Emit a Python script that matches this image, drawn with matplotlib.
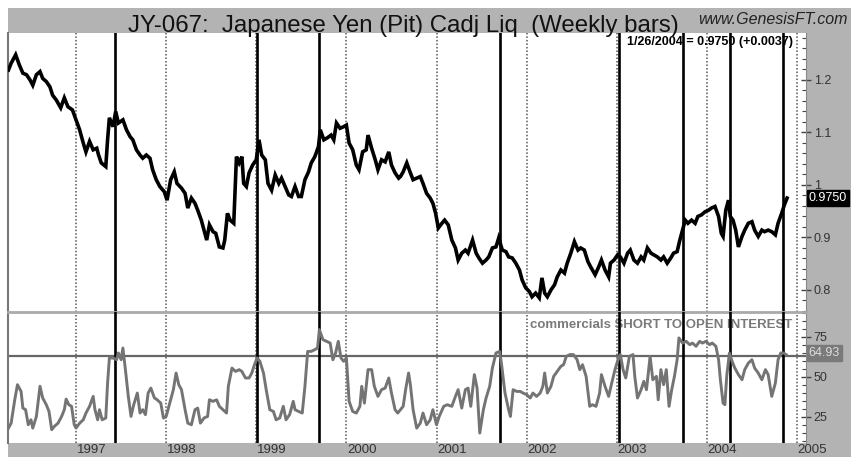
import matplotlib
matplotlib.use("Agg")
import matplotlib.pyplot as plt
import matplotlib.transforms as mtransforms
from matplotlib.patches import Rectangle
from matplotlib.ticker import FixedLocator, FixedFormatter, MultipleLocator

plt.rcParams['font.family'] = ['Liberation Sans', 'DejaVu Sans']

# weekly JY closes, x in decimal years
yen_t = [1996.25, 1996.28, 1996.33, 1996.37, 1996.41, 1996.45, 1996.49, 1996.52, 1996.56, 1996.60,
         1996.63, 1996.67, 1996.71, 1996.74, 1996.78, 1996.83, 1996.87, 1996.91, 1996.96, 1997.00,
         1997.04, 1997.08, 1997.11, 1997.15, 1997.19, 1997.23, 1997.25, 1997.28, 1997.33, 1997.35,
         1997.37, 1997.41, 1997.44, 1997.47, 1997.52, 1997.56, 1997.60, 1997.63, 1997.67, 1997.71,
         1997.74, 1997.78, 1997.82, 1997.85, 1997.89, 1997.93, 1997.98, 1998.01, 1998.05, 1998.09,
         1998.12, 1998.17, 1998.21, 1998.24, 1998.28, 1998.32, 1998.35, 1998.39, 1998.43,
         1998.45, 1998.48, 1998.52, 1998.55, 1998.59, 1998.63, 1998.65, 1998.68, 1998.71, 1998.75,
         1998.78, 1998.81, 1998.84, 1998.86, 1998.89, 1998.92, 1998.96, 1999.00, 1999.03, 1999.06,
         1999.10, 1999.13, 1999.17, 1999.21, 1999.25, 1999.28, 1999.32, 1999.36, 1999.39, 1999.43,
         1999.47, 1999.50, 1999.54, 1999.58, 1999.61, 1999.65, 1999.69, 1999.71, 1999.75, 1999.79,
         1999.83, 1999.86, 1999.89, 1999.93, 1999.97, 2000.00, 2000.03, 2000.07, 2000.11, 2000.14,
         2000.18, 2000.22, 2000.24, 2000.28, 2000.32, 2000.35, 2000.39, 2000.43, 2000.47, 2000.50,
         2000.54, 2000.58,
         2000.60, 2000.63, 2000.67, 2000.71, 2000.74, 2000.78, 2000.82, 2000.85, 2000.89, 2000.93,
         2000.96, 2000.99, 2001.02, 2001.06, 2001.09, 2001.13, 2001.17, 2001.21, 2001.24, 2001.28,
         2001.32, 2001.35, 2001.40, 2001.44, 2001.47, 2001.51, 2001.55, 2001.58, 2001.62, 2001.66,
         2001.69, 2001.73, 2001.77, 2001.80, 2001.84, 2001.88, 2001.92, 2001.95, 2001.99, 2002.03,
         2002.06, 2002.10, 2002.14, 2002.17, 2002.20, 2002.23, 2002.27, 2002.31, 2002.34, 2002.38,
         2002.42, 2002.45, 2002.49, 2002.53, 2002.57, 2002.60, 2002.64, 2002.68, 2002.71,
         2002.76, 2002.80, 2002.83, 2002.87, 2002.91, 2002.93, 2002.97, 2003.01, 2003.04, 2003.08,
         2003.12, 2003.15, 2003.19, 2003.23, 2003.27, 2003.30, 2003.34, 2003.38, 2003.41, 2003.45,
         2003.49, 2003.52, 2003.56, 2003.60, 2003.63, 2003.67, 2003.70, 2003.73, 2003.76, 2003.79,
         2003.83, 2003.87, 2003.90, 2003.94, 2003.98, 2004.02, 2004.05, 2004.09, 2004.13, 2004.16,
         2004.18, 2004.21, 2004.24, 2004.26, 2004.29, 2004.32, 2004.35, 2004.39, 2004.42, 2004.46,
         2004.50, 2004.53, 2004.57, 2004.61, 2004.64, 2004.68, 2004.72, 2004.76, 2004.79, 2004.83,
         2004.86, 2004.89]
yen = [1.219, 1.232, 1.248, 1.229, 1.213, 1.21, 1.2, 1.19, 1.21, 1.216,
       1.203, 1.197, 1.187, 1.171, 1.162, 1.147, 1.166, 1.149, 1.143, 1.124,
       1.105, 1.08, 1.063, 1.083, 1.067, 1.07, 1.057, 1.042, 1.035, 1.086,
       1.128, 1.111, 1.14, 1.118, 1.124, 1.105, 1.092, 1.086, 1.067, 1.057,
       1.051, 1.057, 1.051, 1.029, 1.01, 0.997, 0.987, 0.971, 1.01, 1.025,
       1.003, 0.994, 0.984, 0.956, 0.975, 0.965, 0.952, 0.933, 0.908,
       0.895, 0.924, 0.911, 0.908, 0.882, 0.88, 0.895, 0.946, 0.933, 0.927,
       1.054, 1.042, 1.054, 1.003, 0.997, 1.023, 1.038, 1.048, 1.086, 1.057,
       1.048, 1.003, 0.99, 1.019, 1.003, 1.013, 0.997, 0.981, 0.978, 0.997,
       0.978, 0.978, 1.01, 1.025, 1.042, 1.054, 1.073, 1.105, 1.086, 1.09,
       1.095, 1.086, 1.118, 1.108, 1.111, 1.114, 1.08, 1.067, 1.038, 1.029,
       1.063, 1.067, 1.095, 1.07, 1.048, 1.029, 1.048, 1.044, 1.063, 1.038,
       1.023, 1.013,
       1.016, 1.025, 1.042, 1.023, 1.01, 1.013, 1.016, 1.003, 0.984, 0.975,
       0.965, 0.946, 0.918, 0.927, 0.933, 0.924, 0.895, 0.88, 0.857, 0.87,
       0.876, 0.87, 0.895, 0.87, 0.861, 0.851, 0.857, 0.863, 0.88, 0.882,
       0.899, 0.876, 0.873, 0.863, 0.861, 0.851, 0.838, 0.819, 0.804, 0.797,
       0.787, 0.794, 0.785, 0.823, 0.794, 0.787, 0.8, 0.81, 0.825, 0.838,
       0.832, 0.851, 0.87, 0.892, 0.876, 0.88, 0.876, 0.854, 0.844,
       0.829, 0.844, 0.857, 0.838, 0.825, 0.851, 0.857, 0.867, 0.863, 0.851,
       0.87, 0.876, 0.857, 0.851, 0.863, 0.857, 0.88, 0.87, 0.867, 0.863,
       0.857, 0.863, 0.851, 0.861, 0.87, 0.873, 0.895, 0.914, 0.933, 0.927,
       0.933, 0.927, 0.94, 0.943, 0.949, 0.952, 0.956, 0.959, 0.94, 0.908,
       0.902, 0.952, 0.971, 0.94, 0.933, 0.914, 0.882, 0.902, 0.914, 0.927,
       0.93, 0.914, 0.902, 0.914, 0.911, 0.914, 0.911, 0.905, 0.927, 0.946,
       0.962, 0.975]

# commercials short / open interest (%)
cot_t = [1996.25, 1996.28, 1996.32, 1996.35, 1996.39, 1996.41, 1996.44, 1996.47, 1996.50, 1996.52,
         1996.56, 1996.60, 1996.63, 1996.67, 1996.70, 1996.73, 1996.76, 1996.80, 1996.84, 1996.87,
         1996.89, 1996.92, 1996.95, 1996.98, 1997.00, 1997.04, 1997.08, 1997.11, 1997.15, 1997.19,
         1997.21, 1997.24, 1997.26, 1997.29, 1997.33, 1997.35, 1997.37, 1997.41, 1997.45, 1997.47,
         1997.50, 1997.52, 1997.55, 1997.58, 1997.61, 1997.64, 1997.68, 1997.71, 1997.74, 1997.77,
         1997.80, 1997.83, 1997.87, 1997.90, 1997.94, 1997.97, 1998.00, 1998.04, 1998.08, 1998.11,
         1998.14, 1998.17, 1998.21, 1998.24, 1998.28, 1998.32, 1998.35, 1998.38, 1998.42, 1998.46,
         1998.48, 1998.52, 1998.56, 1998.59, 1998.63, 1998.67, 1998.69, 1998.73, 1998.77, 1998.81,
         1998.84, 1998.88, 1998.92, 1998.95, 1998.98, 1999.01, 1999.04, 1999.08, 1999.11, 1999.15,
         1999.19, 1999.22, 1999.26, 1999.30, 1999.33, 1999.37, 1999.41, 1999.43, 1999.47, 1999.51,
         1999.54, 1999.57, 1999.61, 1999.65, 1999.68, 1999.70, 1999.74, 1999.78, 1999.82, 1999.85,
         1999.88, 1999.91, 1999.94, 1999.97, 2000.00, 2000.03, 2000.07, 2000.11, 2000.15, 2000.17,
         2000.20, 2000.24, 2000.28, 2000.31, 2000.35, 2000.39, 2000.43, 2000.47, 2000.50, 2000.54,
         2000.57,
         2000.60, 2000.63, 2000.66, 2000.69, 2000.71, 2000.74, 2000.78, 2000.82, 2000.85, 2000.89,
         2000.93, 2000.96, 2001.00, 2001.03, 2001.08, 2001.12, 2001.17, 2001.21, 2001.24, 2001.28,
         2001.32, 2001.35, 2001.38, 2001.42, 2001.45, 2001.48, 2001.52, 2001.55, 2001.59, 2001.62,
         2001.66, 2001.70, 2001.72, 2001.76, 2001.80, 2001.82, 2001.85, 2001.89, 2001.93, 2001.96,
         2002.00, 2002.04, 2002.07, 2002.11, 2002.15, 2002.18, 2002.20, 2002.23, 2002.27, 2002.30,
         2002.34, 2002.38, 2002.41, 2002.44, 2002.48, 2002.52, 2002.56, 2002.59, 2002.62, 2002.66,
         2002.70, 2002.73, 2002.77, 2002.81, 2002.83, 2002.87, 2002.91, 2002.94, 2002.98, 2003.02,
         2003.04, 2003.07, 2003.10, 2003.14, 2003.18, 2003.20, 2003.23, 2003.27, 2003.30, 2003.33,
         2003.37, 2003.40, 2003.44, 2003.46, 2003.49, 2003.52, 2003.55, 2003.58, 2003.61, 2003.64,
         2003.67, 2003.69, 2003.73, 2003.77, 2003.81, 2003.84, 2003.88, 2003.92, 2003.95, 2003.99,
         2004.03, 2004.06, 2004.10, 2004.13, 2004.15, 2004.18, 2004.20, 2004.22, 2004.25, 2004.28,
         2004.31, 2004.35, 2004.39, 2004.42, 2004.46, 2004.50, 2004.53, 2004.57, 2004.61, 2004.65,
         2004.68, 2004.72, 2004.76, 2004.79, 2004.82, 2004.85, 2004.88]
cot = [17.9, 21.0, 35.6, 45.0, 40.8, 30.4, 29.4, 20.0, 23.1, 17.9,
       25.2, 44.0, 36.7, 32.5, 28.3, 16.9, 19.0, 21.0, 25.2, 29.4,
       36.0, 32.5, 31.5, 20.0, 17.9, 21.0, 23.1, 27.3, 31.5, 37.7,
       29.4, 23.1, 29.4, 23.1, 24.2, 46.0, 61.7, 61.7, 60.6, 64.8,
       60.6, 67.9, 53.3, 37.7, 25.2, 32.5, 39.8, 27.3, 29.4, 26.3,
       39.8, 42.9, 36.7, 35.6, 33.5, 24.2, 25.2, 33.5, 41.9, 52.3,
       45.0, 41.9, 29.4, 21.0, 20.0, 29.4, 30.4, 21.0, 24.2, 25.2,
       35.6, 34.6, 35.6, 31.5, 29.4, 27.3, 44.0, 55.4, 53.3, 54.4,
       53.3, 49.2, 49.2, 52.3, 57.5, 61.7, 59.6, 52.3, 41.9, 29.4,
       28.3, 23.1, 24.2, 31.5, 23.1, 26.3, 34.6, 29.4, 28.3, 27.3,
       44.0, 65.8, 65.8, 66.9, 67.9, 79.4, 73.1, 72.1, 71.0, 60.6,
       64.8, 72.1, 61.7, 59.6, 61.7, 34.6, 28.3, 27.3, 31.5, 44.0,
       33.5, 54.4, 54.4, 44.0, 37.7, 41.9, 42.9, 49.2, 39.8, 29.4,
       27.3,
       29.4, 31.5, 42.9, 52.3, 45.0, 29.4, 17.9, 21.0, 27.3, 20.0,
       23.1, 29.4, 20.0, 25.2, 31.5, 32.5, 31.5, 37.7, 41.9, 30.4,
       41.9, 42.9, 31.5, 51.3, 42.9, 14.8, 29.4, 36.7, 44.0, 55.4,
       64.8, 65.8, 58.5, 39.8, 29.4, 25.2, 41.9, 40.8, 40.8, 39.8,
       38.8, 36.7, 39.8, 37.7, 39.8, 44.0, 52.3, 39.8, 44.0, 50.2,
       53.3, 56.5, 57.5, 62.7, 63.8, 63.8, 60.6, 54.4, 57.5, 50.2,
       31.5, 32.5, 31.5, 39.8, 51.3, 44.0, 37.7, 45.0, 54.4, 61.7,
       63.8, 54.4, 49.2, 62.7, 63.8, 50.2, 36.7, 41.9, 47.1, 41.9,
       62.7, 48.1, 50.2, 35.6, 54.4, 45.0, 54.4, 31.5, 41.9, 50.2,
       60.6, 74.2, 71.0, 72.1, 70.0, 71.0, 69.0, 72.1, 71.0, 72.1,
       70.0, 71.0, 69.0, 60.6, 48.1, 33.5, 32.5, 50.2, 64.8, 59.6,
       55.4, 51.3, 48.1, 54.4, 58.5, 60.6, 55.4, 52.3, 48.1, 54.4,
       51.3, 37.7, 46.0, 60.6, 64.8, 64.8, 63.8]

event_t = [1997.43, 1999.01, 1999.70, 2001.71, 2003.03, 2003.74, 2004.26, 2004.85]
years = [1997, 1998, 1999, 2000, 2001, 2002, 2003, 2004, 2005]
yen_ticks = [0.8, 0.9, 1.0, 1.1, 1.2]
yen_ticklabels = ['0.8', '0.9', '1', '1.1', '1.2']
cot_ticks = [25, 50, 75]
cot_level = 63
last_yen = 0.9750
last_cot = 64.93

W, H = 851, 457
GRAY = '#b3b3b3'
fig = plt.figure(figsize=(W / 100, H / 100), dpi=100)
fig.patches.append(Rectangle((8 / W, 0), 1 - 8 / W, 1 - 8 / H, transform=fig.transFigure,
                             facecolor=GRAY, edgecolor='none', zorder=-5))


def box(x0, y0, x1, y1):
    return [x0 / W, 1 - y1 / H, (x1 - x0) / W, (y1 - y0) / H]


ax1 = fig.add_axes(box(8, 33, 806, 312))
ax2 = fig.add_axes(box(8, 312, 806, 443), sharex=ax1)

for ax in (ax1, ax2):
    ax.set_facecolor('white')
    for yr in years:
        ax.axvline(yr, color='#555555', lw=1.1, ls=(0, (1, 1.3)), zorder=1)
    for t in event_t:
        ax.axvline(t, color='black', lw=1.9, zorder=3)
    ax.yaxis.tick_right()
    ax.tick_params(axis='x', bottom=False, labelbottom=False)
    ax.tick_params(axis='y', which='major', direction='inout', length=7, width=1,
                   color='#444444', labelsize=9, labelcolor='#333333', pad=2)
    ax.tick_params(axis='y', which='minor', direction='in', length=3, width=0.8, color='#444444')
    ax.spines['left'].set_color('#777777')
    ax.spines['left'].set_linewidth(1.5)
    ax.spines['right'].set_color('#888888')
    ax.spines['right'].set_linewidth(0.8)
    ax.spines['top'].set_visible(False)
    ax.spines['bottom'].set_visible(False)

ax1.set_xlim(1996.245, 2005.10)

# price panel
ax1.plot(yen_t, yen, color='black', lw=2.6, solid_joinstyle='miter', zorder=4)
ax1.set_ylim(0.758, 1.2895)
ax1.yaxis.set_major_locator(FixedLocator(yen_ticks))
ax1.yaxis.set_major_formatter(FixedFormatter(yen_ticklabels))
ax1.yaxis.set_minor_locator(MultipleLocator(0.02))
ax1.text(1.003, last_yen, '0.9750', transform=mtransforms.blended_transform_factory(ax1.transAxes, ax1.transData),
         ha='left', va='center', fontsize=9, color='white', clip_on=False, zorder=6,
         bbox=dict(boxstyle='square,pad=0.15', facecolor='black', edgecolor='black'))

# COT panel
ax2.axhline(cot_level, color='#666666', lw=1.6, zorder=2)
ax2.plot(cot_t, cot, color='#747474', lw=2.1, zorder=4)
ax2.set_ylim(8.6, 90.4)
ax2.yaxis.set_major_locator(FixedLocator(cot_ticks))
ax2.yaxis.set_minor_locator(MultipleLocator(5))
ax2.spines['top'].set_visible(True)
ax2.spines['top'].set_color('#aaaaaa')
ax2.spines['top'].set_linewidth(2)
ax2.text(1.003, last_cot, '64.93', transform=mtransforms.blended_transform_factory(ax2.transAxes, ax2.transData),
         ha='left', va='center', fontsize=9, color='#dddddd', clip_on=False, zorder=6,
         bbox=dict(boxstyle='square,pad=0.15', facecolor='#7a7a7a', edgecolor='#7a7a7a'))
ax2.text(0.6545, 0.9, 'commercials SHORT TO OPEN INTEREST', transform=ax2.transAxes,
         ha='left', va='center', fontsize=9.5, fontweight='bold', color='#7a7a7a', zorder=2)

# year labels in the bottom strip
lab_tr = mtransforms.blended_transform_factory(ax2.transData, ax2.transAxes)
for yr in years:
    ax2.text(yr + 0.17, -0.055, str(yr), transform=lab_tr, ha='center', va='center',
             fontsize=9.5, color='#333333', clip_on=False)

fig.text(128 / W, 1 - 32 / H, 'JY-067:  Japanese Yen (Pit) Cadj Liq  (Weekly bars)',
         fontsize=17.3, color='#111111', ha='left', va='baseline')
fig.text(848 / W, 1 - 19 / H, 'www.GenesisFT.com', fontsize=11.5, style='italic',
         color='#222222', ha='right', va='center')
fig.text(627 / W, 1 - 42 / H, '1/26/2004 = 0.9750 (+0.0037)', fontsize=9, fontweight='bold',
         color='black', ha='left', va='center', zorder=2)

fig.savefig('out.png', dpi=100)
